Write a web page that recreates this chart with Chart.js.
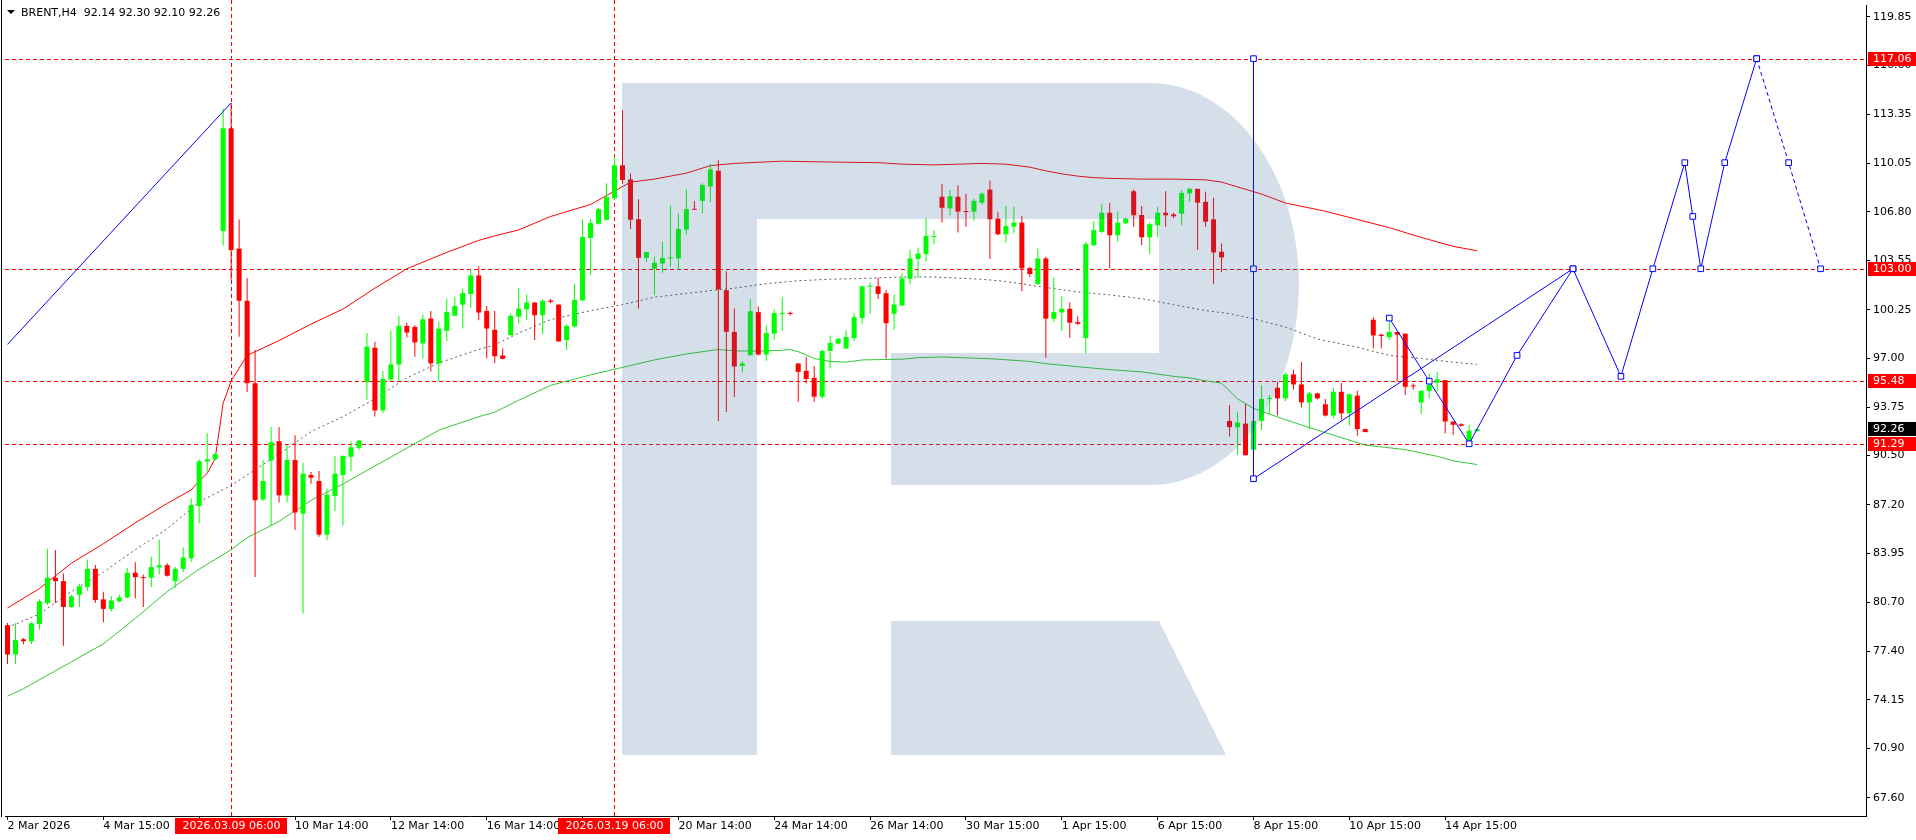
<!DOCTYPE html>
<html>
<head>
<meta charset="utf-8">
<title>BRENT,H4</title>
<script src="https://cdn.jsdelivr.net/npm/chart.js@4.4.1/dist/chart.umd.min.js"></script>
<style>
  html, body { margin: 0; padding: 0; background: #fff; overflow: hidden; }
  #wrap { width: 1916px; height: 840px; }
</style>
</head>
<body>
<div id="wrap"><canvas id="chart" width="1916" height="840"></canvas></div>
<script>
const symbolName = 'BRENT,H4';

// H4 candles, one per bar index
const candleOpen = [
  79.15,77.19,78.21,78.08,79.23,80.63,82.33,82.1,80.37,81.18,
  81.7,82.92,80.88,80.24,80.75,81.01,82.66,82.36,82.33,83.02,
  83.17,82.1,82.92,83.63,87.12,90.1,90.25,105.52,112.4,104.35,
  100.86,95.34,87.56,90.17,91.46,87.84,90.2,86.62,89.2,88.8,
  85.21,87.8,89.2,90.42,91.02,95.41,97.72,93.52,95.6,96.6,
  99.18,99.11,98.0,99.67,96.67,98.85,99.86,100.6,101.31,102.55,
  100.18,98.92,97.2,98.56,99.8,100.29,100.74,99.89,100.87,100.6,
  98.23,99.14,100.89,105.06,106.01,106.28,107.72,109.92,108.98,106.32,
  103.73,103.0,103.35,103.69,103.69,105.62,106.99,107.54,108.5,109.56,
  101.57,98.78,96.5,97.21,100.1,97.26,98.66,99.98,100.03,96.66,
  96.17,95.7,94.44,97.5,97.99,97.66,98.37,99.7,101.8,101.83,
  101.36,99.99,100.54,102.32,103.65,103.98,105.13,107.82,107.04,107.82,
  106.86,106.82,107.42,108.3,106.35,105.31,105.82,106.09,103.05,101.98,
  103.69,99.66,100.08,100.32,99.43,98.37,104.58,105.47,106.75,105.24,
  106.04,108.19,106.6,105.11,105.91,106.75,106.64,106.69,108.05,108.35,
  107.48,106.31,104.14,92.82,92.4,92.64,90.89,92.82,94.29,95.04,
  94.33,95.93,95.26,94.06,94.66,93.93,93.18,94.77,93.33,94.51,
  92.27,99.59,98.59,98.43,98.77,98.66,95.17,94.06,94.82,95.37,
  95.55,92.78,92.6,91.45,92.14
];
const candleHigh = [
  79.3,79.28,78.3,79.35,80.88,84.27,84.19,82.61,81.18,81.9,
  83.55,83.17,81.39,81.08,81.18,82.97,83.37,82.54,83.73,84.88,
  83.3,83.04,84.37,87.63,90.25,92.0,90.68,113.72,114.1,106.29,
  102.39,97.56,90.2,92.41,92.41,91.2,91.86,90.02,89.4,89.46,
  88.29,90.48,90.5,91.46,91.55,98.71,98.11,96.16,98.85,99.84,
  99.38,99.22,99.93,100.18,99.44,100.99,101.1,101.66,102.99,103.17,
  100.51,100.18,97.68,100.0,101.73,101.29,100.78,101.0,101.0,100.62,
  99.29,102.0,106.32,106.32,107.06,108.72,110.49,113.6,109.38,107.65,
  104.13,103.8,104.79,107.21,106.72,108.32,107.54,108.72,110.05,110.27,
  102.84,100.34,96.81,100.98,100.5,99.21,100.25,101.1,100.14,96.7,
  97.1,96.5,97.59,98.54,98.37,98.88,100.03,101.87,102.09,102.4,
  101.58,101.27,102.69,104.27,104.42,106.4,105.6,108.68,108.26,108.59,
  108.02,107.68,108.1,108.9,106.82,107.2,107.15,106.53,103.14,104.36,
  103.8,102.43,101.16,100.76,99.83,104.8,106.2,107.35,107.42,106.82,
  106.42,108.3,107.2,106.09,107.13,108.19,106.75,108.26,108.42,108.35,
  108.15,107.75,104.69,93.89,93.44,93.95,93.2,95.22,94.55,95.44,
  96.04,96.26,96.77,94.77,94.71,94.29,95.04,95.37,94.66,94.84,
  92.29,99.76,98.66,99.54,98.8,98.66,95.33,94.84,96.0,96.1,
  95.55,92.78,92.67,92.56,92.30
];
const candleLow = [
  76.55,76.55,77.88,77.9,78.84,80.5,80.63,77.77,80.32,80.37,
  81.44,80.63,79.35,80.07,80.68,80.93,80.93,80.37,81.7,82.54,
  82.41,81.64,82.71,83.38,85.97,89.41,90.17,104.56,102.27,98.45,
  94.76,82.37,87.47,85.8,87.36,87.36,85.52,79.93,88.62,85.07,
  84.81,86.8,85.8,89.46,90.88,94.23,93.12,93.34,95.5,95.5,
  98.4,97.12,97.0,96.12,95.5,98.16,99.84,99.0,100.4,99.55,
  97.0,96.7,96.97,98.52,99.36,99.56,98.23,98.63,100.7,98.12,
  97.57,99.07,100.82,102.62,105.95,106.24,107.65,108.67,105.66,100.34,
  103.46,101.22,102.73,103.13,102.95,105.28,106.93,106.72,107.45,92.8,
  93.42,94.42,96.06,97.21,97.2,96.84,98.25,98.83,99.87,94.11,
  95.33,94.11,94.28,96.33,97.95,97.66,98.17,99.32,99.99,100.98,
  96.99,98.92,100.5,101.98,102.38,103.49,104.64,106.09,106.57,105.42,
  105.82,106.22,107.3,103.65,105.24,104.76,105.38,101.5,102.43,101.92,
  97.04,99.43,98.83,98.37,99.26,97.33,104.49,105.38,103.03,104.8,
  105.98,105.82,104.58,103.98,105.11,105.82,106.38,105.91,107.46,104.25,
  105.82,101.98,102.76,91.78,90.56,90.52,90.4,92.22,93.27,93.18,
  94.15,94.93,93.71,92.27,94.26,93.11,93.0,92.89,92.49,91.82,
  92.07,97.66,97.66,98.21,95.48,94.55,94.93,93.27,94.33,94.82,
  92.0,91.89,92.45,91.45,92.10
];
const candleClose = [
  77.19,78.16,78.08,79.28,80.75,82.33,82.1,80.37,81.08,81.75,
  82.92,80.83,80.24,80.8,81.01,82.66,82.36,82.3,83.04,83.17,
  82.46,82.92,83.68,87.19,90.12,90.25,90.6,112.4,104.25,100.86,
  95.34,87.51,88.8,91.39,87.84,90.2,86.69,89.29,89.02,85.21,
  87.87,89.29,90.48,91.06,91.5,97.78,93.52,95.63,96.6,99.18,
  98.73,98.07,99.62,96.67,99.0,100.11,100.51,101.37,102.55,100.07,
  99.0,97.15,96.97,99.85,100.34,100.74,99.89,100.85,100.78,98.14,
  99.18,100.91,105.13,106.06,106.99,107.79,109.92,108.94,106.28,103.73,
  104.13,103.4,103.73,103.73,105.66,106.99,106.95,108.61,109.65,101.62,
  98.78,96.46,96.66,100.16,97.26,98.7,100.03,100.03,99.98,96.1,
  95.62,94.44,97.5,98.03,98.32,98.43,99.76,101.83,101.85,101.32,
  99.36,100.61,102.36,103.69,104.02,105.2,105.17,107.08,107.86,106.82,
  106.8,107.55,108.02,106.31,105.31,105.87,106.09,103.03,102.65,103.69,
  99.66,100.1,100.32,99.39,99.32,104.65,105.58,106.75,105.24,106.09,
  106.35,106.58,105.11,105.98,106.75,106.58,106.51,108.08,108.35,107.42,
  106.15,104.09,103.76,92.4,92.71,90.52,92.82,94.29,94.33,94.33,
  95.93,95.26,94.06,94.66,94.33,93.18,94.77,93.33,94.6,92.27,
  92.07,98.54,98.5,98.77,98.59,95.1,95.13,94.84,95.22,95.6,
  92.78,92.56,92.49,92.16,92.26
];

// indicator lines, sampled at bar indices
const upperIdx = [0,4,8,12,16,20,23,24,25,26,27,28,30,34,38,42,46,50,55,59,61,64,68,73,76,78,81,85,88,91,97,102,109,112,116,122,125,128,130,132,134,136,138,142,146,150,152,157,160,165,169,173,177,181,184];
const upperVal = [80.3,81.6,83.3,84.6,86.0,87.3,88.2,88.8,89.3,90.3,94.0,95.5,97.2,98.2,99.3,100.3,101.7,103.0,104.1,104.9,105.2,105.6,106.5,107.3,108.2,108.8,109.0,109.4,109.9,110.05,110.2,110.15,110.1,110.0,109.95,110.05,110.0,109.8,109.55,109.35,109.2,109.1,109.05,109.0,109.0,108.95,108.8,108.0,107.4,106.85,106.3,105.75,105.1,104.5,104.2];
const midIdx = [0,4,8,12,16,20,24,28,30,34,38,42,46,50,54,59,61,64,68,73,77,81,85,89,91,95,99,103,107,112,116,120,122,125,130,134,138,142,146,150,153,156,160,164,169,173,177,181,184];
const midVal = [79.0,79.9,81.4,82.7,84.2,85.6,87.4,88.5,89.2,90.6,92.1,93.1,94.3,95.7,96.7,97.6,97.9,98.7,99.6,100.2,100.6,101.1,101.35,101.6,101.7,102.0,102.2,102.3,102.35,102.45,102.45,102.35,102.3,102.15,101.75,101.45,101.25,101.0,100.6,100.2,100.0,99.65,99.1,98.3,97.75,97.2,97.0,96.75,96.6];
const lowerIdx = [0,2,8,12,16,20,24,28,30,34,38,42,46,50,54,59,61,64,68,73,77,81,85,89,91,95,97,98,99,101,103,105,107,112,114,117,122,124,128,130,134,138,142,146,148,150,152,154,156,160,164,170,175,179,181,184];
const lowerVal = [74.4,74.9,76.7,77.9,79.6,81.4,82.9,84.2,85.0,86.1,87.5,88.6,89.8,91.0,92.2,93.1,93.4,94.2,95.2,95.9,96.4,96.9,97.3,97.6,97.5,97.5,97.55,97.6,97.45,97.0,96.8,96.75,96.9,96.95,97.05,97.1,97.0,96.95,96.8,96.65,96.45,96.25,96.1,95.8,95.7,95.5,95.35,94.3,93.66,92.9,92.2,91.2,90.9,90.45,90.15,89.9];

// drawn objects
const trendX = [0, 28];
const trendY = [97.94, 114.1];
const waveX = [156, 156, 156, 196];
const waveY = [117.06, 103.0, 88.95, 103.0];
const forecastX = [173, 178, 183, 189, 196, 202, 206, 210, 211, 212, 215, 219];
const forecastY = [99.7, 95.48, 91.29, 97.2, 103.0, 95.8, 103.0, 110.1, 106.5, 103.0, 110.1, 117.06];
const forecastEndX = [219, 223, 227];
const forecastEndY = [117.06, 110.1, 103.0];
const levelValues = [117.06, 103.00, 95.48, 91.29];
const markIdx = [28, 76];
const markLabels = ['2026.03.09 06:00', '2026.03.19 06:00'];

// axes
const xTickIdx = [0,12,24,36,48,60,72,84,96,108,120,132,144,156,168,180];
const xTickLabels = ['2 Mar 2026','4 Mar 15:00','','10 Mar 14:00','12 Mar 14:00','16 Mar 14:00','','20 Mar 14:00','24 Mar 14:00','26 Mar 14:00','30 Mar 15:00','1 Apr 15:00','6 Apr 15:00','8 Apr 15:00','10 Apr 15:00','14 Apr 15:00'];
const yTicks = [119.85,116.60,113.35,110.05,106.80,103.55,100.25,97.00,93.75,90.50,87.20,83.95,80.70,77.40,74.15,70.90,67.60];

const xMin = -0.3125, xMax = 232.6875;
const yMin = 66.383, yMax = 120.65;
const FONT = '11px "DejaVu Sans"';

const upColor = '#00ff00', downColor = '#ff0000';
const candleColor = candleOpen.map((o, i) => candleClose[i] >= o ? upColor : downColor);
const toPoints = (xs, ys) => xs.map((x, k) => ({ x: x, y: ys[k] }));

const bodyData = candleOpen.map((o, i) => ({ x: i, y: [o, candleClose[i]] }));
const wickData = candleOpen.map((o, i) => ({ x: i, y: [candleLow[i], candleHigh[i]] }));

const lineDefaults = { type: 'line', borderWidth: 1, pointRadius: 0, tension: 0, fill: false };
const blueObj = {
  type: 'line', borderColor: '#0000ff', borderWidth: 1, tension: 0, fill: false,
  pointStyle: 'rect', pointRadius: 4, pointBorderColor: '#0000ff', pointBorderWidth: 1,
  pointBackgroundColor: '#ffffff', order: 0
};

const decor = {
  id: 'decor',
  beforeDatasetsDraw(chart) {
    const { ctx, chartArea: a, scales: { x, y } } = chart;
    ctx.save();
    ctx.strokeStyle = '#ff0000';
    ctx.lineWidth = 1;
    ctx.setLineDash([4, 3]);
    levelValues.forEach(v => {
      const py = Math.round(y.getPixelForValue(v)) + 0.5;
      ctx.beginPath(); ctx.moveTo(a.left, py); ctx.lineTo(a.right, py); ctx.stroke();
    });
    markIdx.forEach(i => {
      const px = Math.floor(x.getPixelForValue(i)) + 0.5;
      ctx.beginPath(); ctx.moveTo(px, 0); ctx.lineTo(px, a.bottom); ctx.stroke();
    });
    ctx.restore();
  },
  afterDatasetsDraw(chart) {
    // faint logo watermark over the plot
    const { ctx, chartArea: a } = chart;
    ctx.save();
    ctx.beginPath(); ctx.rect(a.left, a.top, a.right - a.left, a.bottom - a.top); ctx.clip();
    ctx.fillStyle = 'rgba(58,106,154,0.21)';
    ctx.beginPath();
    ctx.rect(622, 83, 135, 672);
    ctx.moveTo(757, 83);
    ctx.lineTo(1150, 83);
    ctx.ellipse(1150, 284, 149, 201, 0, -Math.PI / 2, Math.PI / 2);
    ctx.lineTo(891, 485);
    ctx.lineTo(891, 353);
    ctx.lineTo(1159, 353);
    ctx.lineTo(1159, 219);
    ctx.lineTo(757, 219);
    ctx.closePath();
    ctx.moveTo(891, 621);
    ctx.lineTo(1159, 621);
    ctx.lineTo(1226, 755);
    ctx.lineTo(891, 755);
    ctx.closePath();
    ctx.fill();
    ctx.restore();
  },
  afterDraw(chart) {
    const { ctx, chartArea: a, scales: { x, y } } = chart;
    const last = candleClose.length - 1;
    ctx.save();
    ctx.font = FONT;

    // left frame line
    ctx.fillStyle = '#000';
    ctx.fillRect(1, 0, 1, a.bottom + 1);

    // header
    ctx.beginPath(); ctx.moveTo(7, 10); ctx.lineTo(15, 10); ctx.lineTo(11, 14); ctx.closePath(); ctx.fill();
    ctx.textAlign = 'left'; ctx.textBaseline = 'middle';
    const ohlc = [candleOpen[last], candleHigh[last], candleLow[last], candleClose[last]].map(v => v.toFixed(2)).join(' ');
    ctx.fillText(symbolName + '  ' + ohlc, 21, 13);

    // price tags on the right scale
    const tags = levelValues.map(v => ({ v: v, bg: '#ff0000' }));
    tags.push({ v: candleClose[last], bg: '#000000' });
    tags.forEach(t => {
      const py = Math.round(y.getPixelForValue(t.v));
      ctx.fillStyle = t.bg;
      ctx.fillRect(a.right + 2, py - 7, chart.width - a.right - 2, 14);
      ctx.fillStyle = '#ffffff';
      ctx.fillText(t.v.toFixed(2), a.right + 7, py + 0.5);
    });

    // date tags under the vertical lines
    ctx.textAlign = 'center';
    markIdx.forEach((i, k) => {
      const px = Math.floor(x.getPixelForValue(i)) + 0.5;
      const w = ctx.measureText(markLabels[k]).width + 14;
      ctx.fillStyle = '#ff0000';
      ctx.fillRect(Math.round(px - w / 2), a.bottom + 2, Math.round(w), 16);
      ctx.fillStyle = '#ffffff';
      ctx.fillText(markLabels[k], px, a.bottom + 10.5);
    });
    ctx.restore();
  }
};

Chart.defaults.font.family = 'DejaVu Sans';
Chart.defaults.font.size = 11;
Chart.defaults.color = '#000';

new Chart(document.getElementById('chart'), {
  type: 'bar',
  data: {
    datasets: [
      Object.assign({}, blueObj, { label: 'forecast', data: toPoints(forecastX, forecastY) }),
      Object.assign({}, blueObj, { label: 'forecast end', data: toPoints(forecastEndX, forecastEndY), borderDash: [4, 3] }),
      Object.assign({}, blueObj, { label: 'wave', data: toPoints(waveX, waveY) }),
      Object.assign({}, blueObj, { label: 'trend', data: toPoints(trendX, trendY), pointRadius: 0 }),
      {
        type: 'bar', label: 'bodies', data: bodyData, backgroundColor: candleColor,
        borderWidth: 0, barThickness: 5, minBarLength: 1, grouped: false, inflateAmount: 0, order: 1
      },
      {
        type: 'bar', label: 'wicks', data: wickData, backgroundColor: candleColor,
        borderWidth: 0, barThickness: 1, grouped: false, inflateAmount: 0, order: 2
      },
      Object.assign({}, lineDefaults, { label: 'upper', data: toPoints(upperIdx, upperVal), borderColor: '#ff0000', order: 3 }),
      Object.assign({}, lineDefaults, { label: 'middle', data: toPoints(midIdx, midVal), borderColor: '#5a5a5a', borderDash: [2, 3], order: 3 }),
      Object.assign({}, lineDefaults, { label: 'lower', data: toPoints(lowerIdx, lowerVal), borderColor: '#32c832', order: 3 })
    ]
  },
  options: {
    responsive: false,
    devicePixelRatio: 1,
    animation: false,
    events: [],
    layout: { padding: { left: 2, top: 2, right: 0, bottom: 0 } },
    plugins: { legend: { display: false }, tooltip: { enabled: false } },
    scales: {
      x: {
        type: 'linear', min: xMin, max: xMax, offset: false,
        afterBuildTicks: s => { s.ticks = xTickIdx.map(v => ({ value: v })); },
        afterFit: s => { s.height = 24; s.paddingLeft = 0; s.paddingRight = 0; },
        ticks: {
          autoSkip: false, maxRotation: 0, minRotation: 0, align: 'start', padding: 0,
          color: '#000', font: { family: 'DejaVu Sans', size: 11 },
          callback: (v, k) => xTickLabels[k]
        },
        grid: { display: true, drawOnChartArea: false, drawTicks: true, tickLength: 4, color: '#000', offset: false },
        border: { display: true, color: '#000', width: 1 }
      },
      y: {
        type: 'linear', position: 'right', min: yMin, max: yMax,
        afterBuildTicks: s => { s.ticks = yTicks.map(v => ({ value: v })); },
        afterFit: s => { s.width = 50; s.paddingTop = 0; s.paddingBottom = 0; },
        ticks: {
          autoSkip: false, padding: 3, color: '#000', font: { family: 'DejaVu Sans', size: 11 },
          callback: v => v.toFixed(2)
        },
        grid: { display: true, drawOnChartArea: false, drawTicks: true, tickLength: 4, color: '#000' },
        border: { display: true, color: '#000', width: 1 }
      }
    }
  },
  plugins: [decor]
});
</script>
</body>
</html>
